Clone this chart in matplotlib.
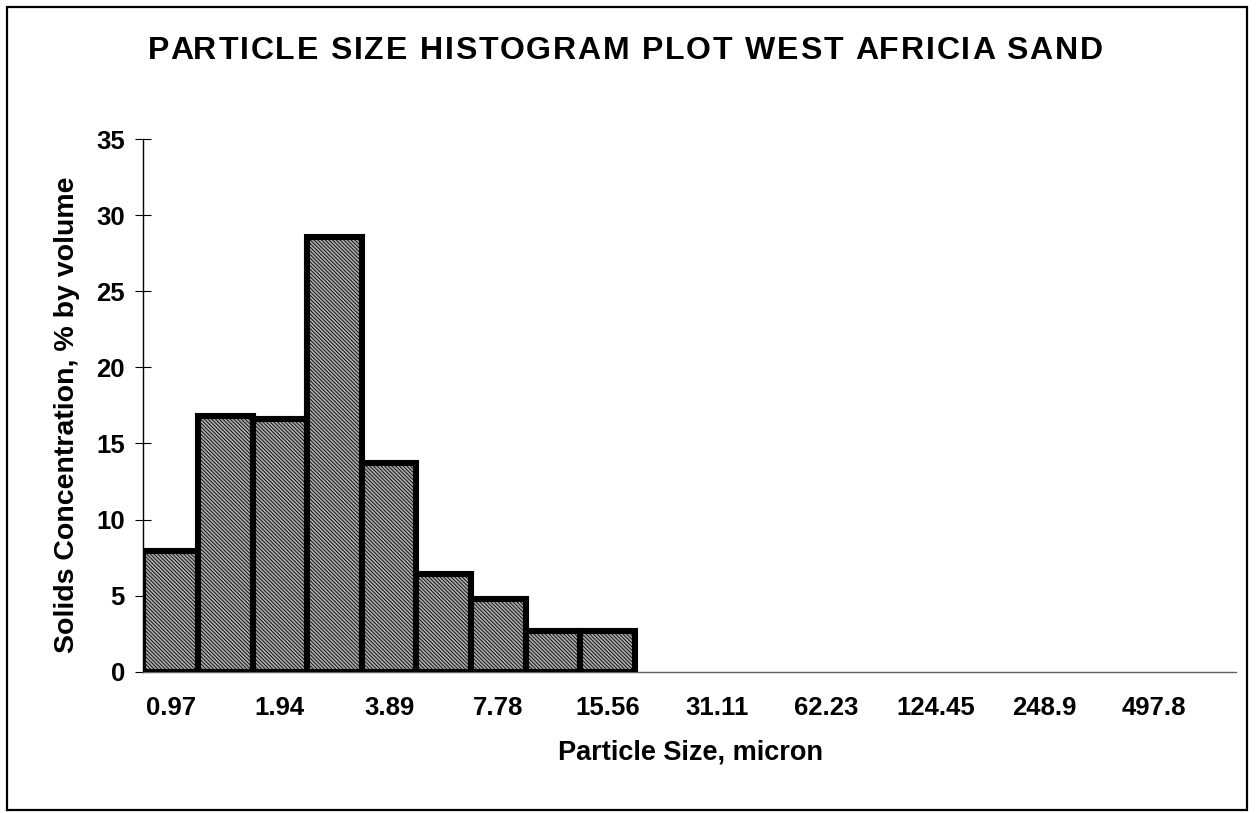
import matplotlib.pyplot as plt
from matplotlib.patches import Rectangle

plt.rcParams['font.family'] = ['Liberation Sans', 'DejaVu Sans']
plt.rcParams['font.weight'] = 'bold'
plt.rcParams['hatch.linewidth'] = 0.6

# bin labels (every second bin is labelled on the axis)
size_labels = ["0.97", "1.94", "3.89", "7.78", "15.56",
               "31.11", "62.23", "124.45", "248.9", "497.8"]
n_bins = 20
# solids concentration per bin, % by volume (bins past the ninth are empty)
concentration = [7.9, 16.8, 16.6, 28.6, 13.7, 6.4, 4.75, 2.65, 2.65]
title = "PARTICLE SIZE HISTOGRAM PLOT WEST AFRICIA SAND"

W, H = 1256, 813
fig = plt.figure(figsize=(W / 100, H / 100), dpi=100)
ax = fig.add_axes([143.3 / W, 1 - 671.5 / H, (1236 - 143.3) / W, (671.5 - 139.5) / H])

bins = list(range(len(concentration)))
ax.bar(bins, concentration, width=1.0, facecolor='#aaaaaa', edgecolor='black',
       linewidth=4.4, hatch='\\' * 9, zorder=3)

ax.set_xlim(-0.5, n_bins - 0.5)
ax.set_ylim(0, 35)
ax.set_yticks(range(0, 36, 5))
ax.set_xticks(range(0, n_bins, 2))
ax.set_xticklabels(size_labels)

for s in ['top', 'right']:
    ax.spines[s].set_visible(False)
ax.spines['left'].set_linewidth(1.0)
ax.spines['bottom'].set_linewidth(1.0)
ax.spines['bottom'].set_color('#606060')

ax.tick_params(axis='y', direction='inout', length=12.2, width=0.8, pad=7.2,
               labelsize=18.5)
ax.tick_params(axis='x', length=0, pad=17.5, labelsize=18.5)
for lab in ax.get_xticklabels() + ax.get_yticklabels():
    lab.set_fontweight('bold')

fig.text(691 / W, 1 - 752 / H, "Particle Size, micron", ha='center', va='center',
         fontsize=19.5, fontweight='bold')
fig.text(67 / W, 1 - 415 / H, "Solids Concentration, % by volume", ha='center',
         va='center', rotation=90, fontsize=20.5, fontweight='bold')

# title with slightly wide letter spacing, laid out one glyph at a time
renderer = fig.canvas.get_renderer()
tsize = 23
def text_width(s):
    t = fig.text(0, 0, s, fontsize=tsize, fontweight='bold')
    w = t.get_window_extent(renderer).width
    t.remove()
    return w

bar_w = text_width('I')
offsets = [0.0] + [text_width(title[:i] + 'I') - bar_w for i in range(1, len(title))]
full = text_width(title)
track = max(0.0, (955 - full) / (len(title) - 1))
x0 = 625 - (full + track * (len(title) - 1)) / 2
for i, ch in enumerate(title):
    if ch == ' ':
        continue
    fig.text((x0 + offsets[i] + i * track) / W, 1 - 59 / H, ch, ha='left',
             va='baseline', fontsize=tsize, fontweight='bold')

# chart frame
fig.patches.append(Rectangle((7 / W, 1 - 810 / H), 1240 / W, 803 / H,
                             transform=fig.transFigure, fill=False,
                             edgecolor='black', linewidth=1.6))

fig.savefig("out.png", dpi=100, facecolor='white')
